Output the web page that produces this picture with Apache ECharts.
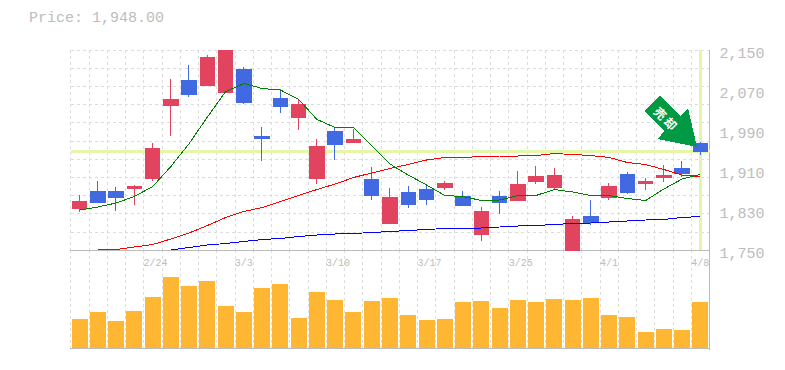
<!DOCTYPE html>
<html>
<head>
<meta charset="utf-8">
<title>Price chart</title>
<script src="https://cdn.jsdelivr.net/npm/echarts@6/dist/echarts.min.js"></script>
<style>
html, body { margin: 0; padding: 0; background: #fff; }
#chart { width: 785px; height: 370px; }
#chart svg path { shape-rendering: crispEdges; }
</style>
</head>
<body>
<div id="chart"></div>
<script>
var dates = ['2/18','2/19','2/20','2/21','2/24','2/25','2/26','2/27','2/28','3/3','3/4','3/5','3/6','3/7','3/10','3/11','3/12','3/13','3/14','3/17','3/18','3/19','3/21','3/24','3/25','3/26','3/27','3/28','3/31','4/1','4/2','4/3','4/4','4/7','4/8'];
var dateTicks = ['2/24','3/3','3/10','3/17','3/25','4/1','4/8'];
var priceTicks = [1750, 1830, 1910, 1990, 2070, 2150];
var lastPrice = 1948;

var opens  = [1834,1868,1868,1874,1894,2040,2090,2080,2066,2112,1978,2054,2016,1894,1988,1966,1892,1804,1866,1872,1876,1858,1782,1858,1850,1888,1876,1750,1818,1856,1902,1884,1896,1914,1964];
var closes = [1848,1846,1856,1878,1954,2052,2062,2136,2150,2046,1974,2038,2042,1958,1962,1972,1860,1856,1842,1852,1884,1840,1828,1846,1882,1898,1900,1812,1806,1878,1866,1888,1900,1904,1948];
var lows   = [1826,1846,1828,1840,1888,1978,2056,2078,2066,2042,1928,2024,1990,1882,1930,1964,1850,1804,1834,1840,1870,1838,1768,1822,1848,1882,1870,1750,1800,1850,1862,1870,1886,1896,1940];
var highs  = [1860,1888,1876,1880,1964,2092,2120,2140,2150,2116,1996,2072,2050,1972,1994,1992,1916,1874,1878,1882,1888,1868,1836,1868,1908,1918,1914,1818,1850,1884,1906,1894,1920,1928,1966];

var maShort = [1830,1836,1844,1857,1877,1917,1963,2016,2067,2083,2073,2070,2051,2011,1995,1995,1959,1922,1900,1880,1859,1857,1849,1850,1859,1859,1871,1866,1859,1859,1853,1849,1872,1892,1901];
var maMid   = ['-',1750,1751,1756,1761,1772,1784,1799,1815,1827,1835,1847,1859,1871,1882,1895,1904,1913,1921,1930,1935,1935,1937,1938,1938,1939,1943,1941,1939,1935,1925,1921,1911,1900,1897];
var maLong  = ['-','-','-','-','-',1750,1755,1760,1763,1767,1771,1773,1777,1780,1782,1783,1785,1787,1789,1791,1793,1793,1794,1796,1798,1799,1801,1803,1804,1806,1808,1810,1811,1815,1817];

var volumes = [29,36,27,37,51,71,62,67,42,36,60,64,30,56,48,36,47,50,33,28,29,46,47,40,48,46,49,48,50,33,31,16,19,18,46];

var UP_COLOR = '#e2435f';
var DOWN_COLOR = '#4169e1';
var MARK_COLOR = '#e5f5a9';
var GRID_COLOR = '#dddddd';
var AXIS_COLOR = '#bbbbbb';
var TEXT_COLOR = '#bdbdbd';
var MONO = '"Liberation Mono", monospace';

var candles = [];
for (var i = 0; i < dates.length; i++) {
	candles.push([opens[i], closes[i], lows[i], highs[i]]);
}

var gridDash = { show: true, lineStyle: { color: GRID_COLOR, type: [3, 3], width: 1 } };

var chart = echarts.init(document.getElementById('chart'), null, { renderer: 'svg' });
chart.setOption({
	animation: false,
	backgroundColor: '#fff',
	title: {
		text: 'Price: 1,948.00',
		left: 29,
		top: 11,
		padding: 0,
		textStyle: { fontFamily: MONO, fontSize: 15, fontWeight: 'normal', color: TEXT_COLOR }
	},
	grid: [
		{ left: 70.5, top: 50, width: 639, height: 200 },
		{ left: 70.5, top: 250, width: 639, height: 100 }
	],
	xAxis: [
		{
			type: 'category', gridIndex: 0, data: dates,
			axisLine: { lineStyle: { color: AXIS_COLOR } },
			axisTick: { show: false }, axisLabel: { show: false },
			splitLine: { show: true, interval: 0, lineStyle: gridDash.lineStyle }
		},
		{
			type: 'category', gridIndex: 1, data: dates,
			axisLine: { lineStyle: { color: AXIS_COLOR } },
			axisTick: { show: false }, axisLabel: { show: false },
			splitLine: { show: true, interval: 0, lineStyle: gridDash.lineStyle }
		},
		{
			// only carries the date labels, which start on the band edge
			type: 'category', gridIndex: 1, position: 'top', boundaryGap: false,
			data: dates.concat(['']),
			axisLine: { show: false }, axisTick: { show: false }, splitLine: { show: false },
			axisLabel: {
				show: true, inside: true, interval: 0, align: 'left', margin: 8,
				fontFamily: MONO, fontSize: 10, color: TEXT_COLOR,
				formatter: function (val) { return dateTicks.indexOf(val) >= 0 ? val : ''; }
			}
		}
	],
	yAxis: [
		{
			type: 'value', gridIndex: 0, position: 'right', min: 1750, max: 2150, scale: true,
			axisLine: { show: true, lineStyle: { color: AXIS_COLOR } },
			axisTick: { show: false }, splitLine: { show: false },
			axisLabel: {
				show: true, customValues: priceTicks, margin: 10,
				verticalAlign: 'top', lineHeight: 8,
				fontFamily: MONO, fontSize: 15, color: TEXT_COLOR,
				formatter: function (v) { return echarts.format.addCommas(v); }
			}
		},
		{
			// horizontal grid rows
			type: 'value', gridIndex: 0, position: 'left', min: 0, max: 11, interval: 1,
			axisLine: { show: false }, axisTick: { show: false }, axisLabel: { show: false },
			splitLine: gridDash
		},
		{
			type: 'value', gridIndex: 1, position: 'right', min: -2, max: 98,
			axisLine: { show: true, lineStyle: { color: AXIS_COLOR } },
			axisTick: { show: false }, axisLabel: { show: false }, splitLine: { show: false }
		}
	],
	series: [
		{
			name: 'Marks', type: 'line', data: [], xAxisIndex: 0, yAxisIndex: 0, z: 1,
			markLine: {
				z: 1, silent: true, symbol: 'none', animation: false, label: { show: false },
				lineStyle: { color: MARK_COLOR, width: 3, type: 'solid' },
				data: [{ yAxis: lastPrice }, { xAxis: dates[dates.length - 1] }]
			}
		},
		{
			name: 'Price', type: 'candlestick', data: candles, xAxisIndex: 0, yAxisIndex: 0, z: 3,
			barWidth: 15, clip: true,
			itemStyle: { color: UP_COLOR, color0: DOWN_COLOR, borderColor: UP_COLOR, borderColor0: DOWN_COLOR, borderWidth: 1 }
		},
		{ name: 'MA short', type: 'line', data: maShort, xAxisIndex: 0, yAxisIndex: 0, z: 4, symbol: 'none', lineStyle: { color: '#008000', width: 1 } },
		{ name: 'MA mid', type: 'line', data: maMid, xAxisIndex: 0, yAxisIndex: 0, z: 4, symbol: 'none', lineStyle: { color: '#ff0000', width: 1 } },
		{ name: 'MA long', type: 'line', data: maLong, xAxisIndex: 0, yAxisIndex: 0, z: 4, symbol: 'none', lineStyle: { color: '#0000ff', width: 1 } },
		{
			name: 'Volume', type: 'bar', data: volumes, xAxisIndex: 1, yAxisIndex: 2, z: 3,
			barWidth: 16, itemStyle: { color: '#ffb733' }
		}
	],
	graphic: [
		{
			type: 'polygon', z: 10,
			shape: { points: [[660, 96], [644, 111], [664, 131], [658, 139], [697, 147], [688, 108], [681, 116]] },
			style: { fill: '#009944' }
		},
		{
			type: 'text', z: 11, x: 666, y: 118, rotation: -Math.PI / 4,
			style: { text: '売 却', fill: '#fff', font: 'bold 12px "Noto Sans CJK JP"', align: 'center', verticalAlign: 'middle' }
		}
	]
});
</script>
</body>
</html>
